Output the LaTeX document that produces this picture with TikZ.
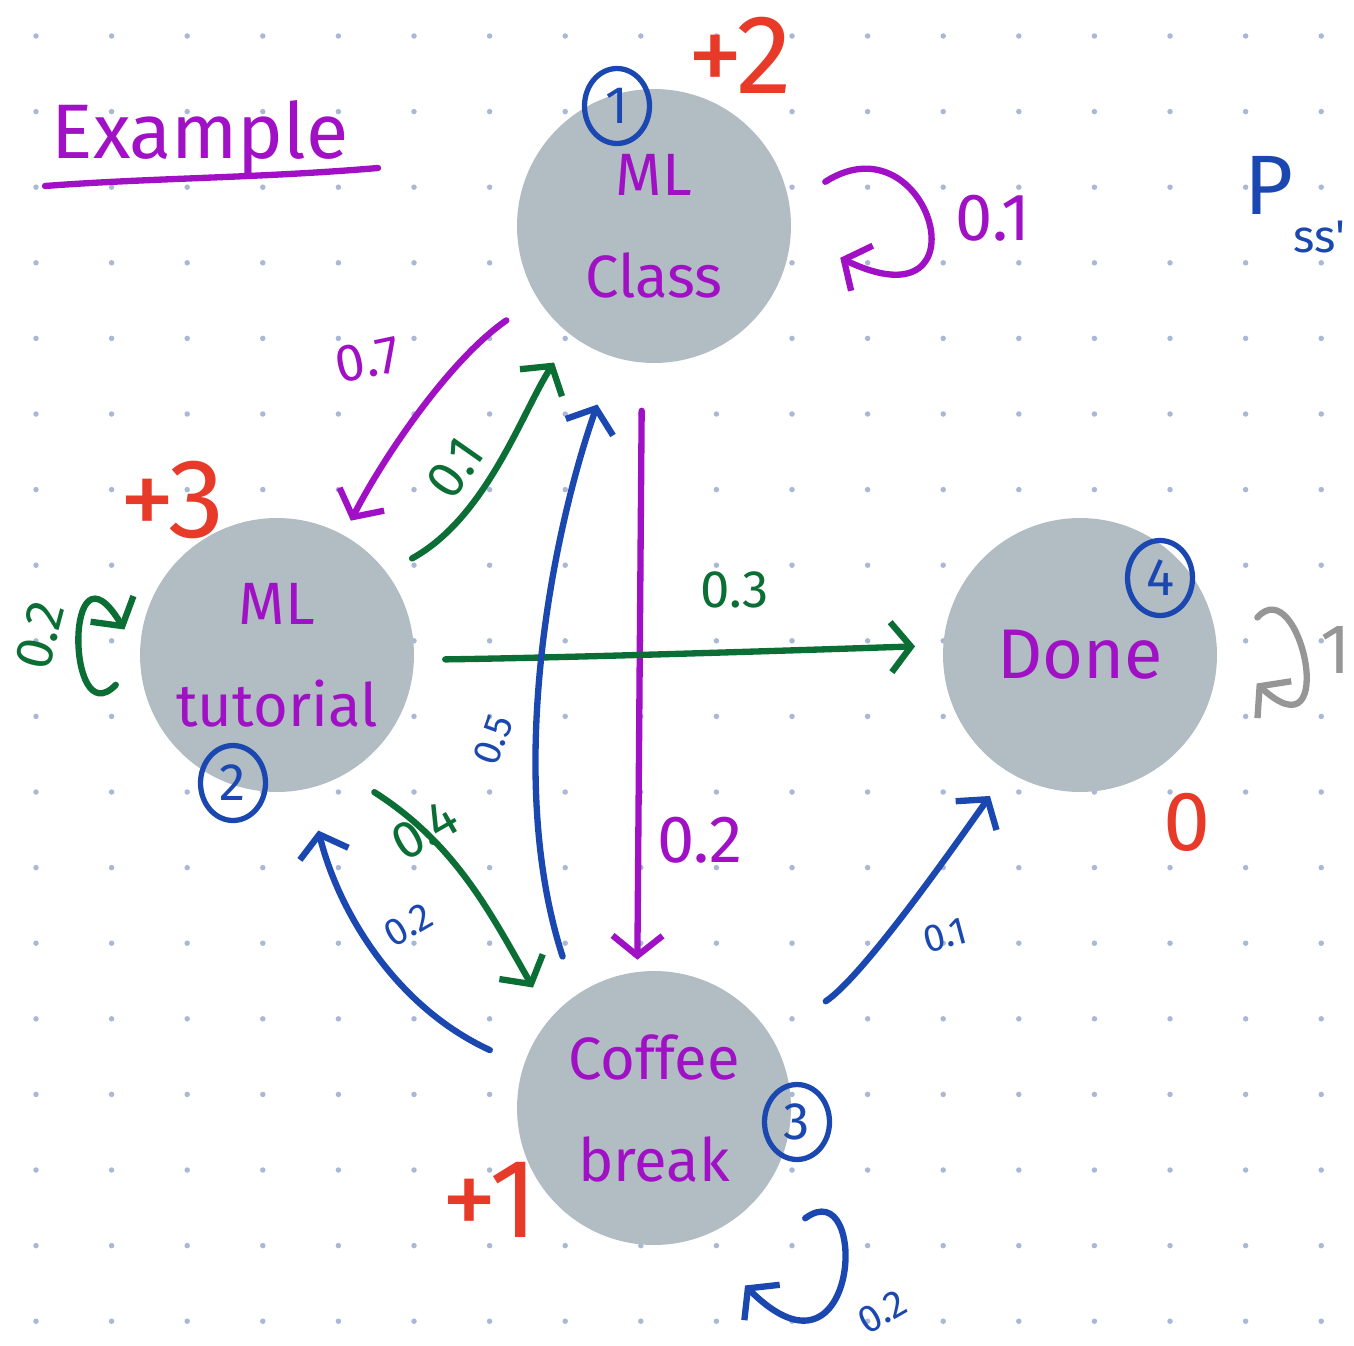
\documentclass[tikz,border=0pt]{standalone}
\usepackage{fontspec}
\usetikzlibrary{arrows.meta,shapes.geometric}
\newfontfamily\hand{Fira Sans}

\definecolor{hpurple}{RGB}{160,16,196}
\definecolor{hgreen}{RGB}{11,110,53}
\definecolor{hblue}{RGB}{26,72,176}
\definecolor{hred}{RGB}{232,58,40}
\definecolor{hgray}{RGB}{150,150,150}
\definecolor{nodegray}{RGB}{177,189,195}
\definecolor{dotcol}{RGB}{169,184,212}

\begin{document}
\begin{tikzpicture}[x=0.02cm, y=-0.02cm,
    v/.style={circle, fill=nodegray, minimum size=5.48cm, inner sep=0pt,
        text=hpurple, align=center, font=\hand\fontsize{34}{58}\selectfont},
    num/.style={ellipse, draw=hblue, line width=3pt, minimum width=1.3cm,
        minimum height=1.5cm, inner sep=0pt, text=hblue,
        font=\hand\fontsize{30}{30}\selectfont},
    rew/.style={text=hred, font=\hand\fontsize{64}{64}\selectfont},
    lbl/.style={font=\hand\fontsize{30}{30}\selectfont},
    sm/.style={font=\hand\fontsize{22}{22}\selectfont},
    e/.style={line width=3.6pt, line cap=round,
        -{Straight Barb[length=4mm, width=10mm]}}
]

    \useasboundingbox (0,0) rectangle (1354,1345);

    % dotted paper
    \foreach \i in {0,...,17}
        \foreach \j in {0,...,17}
            \fill[dotcol] (36+75.6*\i, 36+75.6*\j) circle[radius=0.055cm];

    % title
    \node[text=hpurple, font=\hand\fontsize{44}{44}\selectfont] (title) at (200,138) {Example};
    \draw[hpurple, line width=3.6pt, line cap=round] (45,186) .. controls (150,178) and (260,178) .. (378,168);

    % states
    \node[v] (class) at (654,226) {ML\\Class};
    \node[v] (tut) at (277,655) {ML\\tutorial};
    \node[v] (coffee) at (654,1108) {Coffee\\break};
    \node[v, font=\hand\fontsize{40}{40}\selectfont] (done) at (1080,655) {Done};

    % state numbers
    \node[num] (n1) at (617,106) {1};
    \node[num] (n2) at (233,783) {2};
    \node[num] (n3) at (797,1122) {3};
    \node[num] (n4) at (1160,578) {4};

    % rewards
    \node[rew] (r1) at (740,55) {+2};
    \node[rew] (r2) at (172,500) {+3};
    \node[rew] (r3) at (490,1200) {+1};
    \node[rew, font=\hand\fontsize{48}{48}\selectfont] (r4) at (1187,822) {0};

    \node[text=hblue, font=\hand\fontsize{48}{48}\selectfont] (pss) at (1295,205) {P\raisebox{-0.45em}{\fontsize{26}{26}\selectfont ss'}};

    % transitions from ML class
    \draw[e, hpurple, shorten <=0.76cm, shorten >=0.32cm] (class.212) .. controls +(-88,61) and +(40,-78) .. (tut.61);
    \draw[e, hpurple, shorten <=0.96cm, shorten >=0.24cm] (class.265) -- (coffee.97);
    \draw[e, hpurple] ([shift={(38,-11)}]class.14) .. controls +(105,-67) and +(150,72) .. ([shift={(51,8)}]class.-10);

    % transitions from ML tutorial
    \draw[e, hgreen, shorten <=0.58cm, shorten >=0.64cm] (tut.37) .. controls +(100,-55) and +(-49,76) .. (class.233);
    \draw[e, hgreen, shorten <=0.62cm, shorten >=0.56cm] (tut.-2) .. controls +(150,-2) and +(-150,5) .. (done.176);
    \draw[e, hgreen, shorten <=0.68cm, shorten >=0.70cm] (tut.-60) .. controls +(110,70) and +(-60,-105) .. (coffee.139);
    \draw[e, hgreen] ([shift={(-26,6)}]tut.190) .. controls +(-50,52) and +(-60,-100) .. ([shift={(-17,-4)}]tut.171);

    % transitions from coffee break
    \draw[e, hblue, shorten <=0.82cm, shorten >=1.0cm] (coffee.125) .. controls +(-70,-216) and +(-64,183) .. (class.253);
    \draw[e, hblue, shorten <=0.74cm, shorten >=0.86cm] (coffee.162) .. controls +(-130,-60) and +(30,120) .. (tut.-77);
    \draw[e, hblue, shorten <=1.3cm, shorten >=0.6cm] (coffee.31) .. controls +(90,-60) and +(-60,85) .. (done.238);
    \draw[e, hblue] ([shift={(46,22)}]coffee.-40) .. controls +(65,-48) and +(115,115) .. ([shift={(33,53)}]coffee.-65);

    % done is absorbing
    \draw[e, hgray] ([shift={(43,-9)}]done.12) .. controls +(43,-48) and +(84,77) .. ([shift={(41,7)}]done.-9);

    % probabilities
    \node[lbl, text=hpurple, font=\hand\fontsize{38}{38}\selectfont] (p11) at (993,218) {0.1};
    \node[lbl, text=hpurple, rotate=12] (p12) at (368,360) {0.7};
    \node[lbl, text=hpurple, font=\hand\fontsize{38}{38}\selectfont] (p13) at (700,840) {0.2};
    \node[lbl, text=hgreen, rotate=55] (p21) at (455,468) {0.1};
    \node[lbl, text=hgreen] (p22) at (735,590) {0.3};
    \node[lbl, text=hgreen, rotate=30] (p23) at (425,830) {0.4};
    \node[lbl, text=hgreen, rotate=75] (p24) at (40,635) {0.2};
    \node[sm, text=hblue, rotate=70] (p31) at (493,740) {0.5};
    \node[sm, text=hblue, rotate=30] (p32) at (408,925) {0.2};
    \node[sm, text=hblue, rotate=15] (p33) at (945,935) {0.1};
    \node[sm, text=hblue, rotate=30] (p34) at (882,1312) {0.2};
    \node[text=hgray, font=\hand\fontsize{40}{40}\selectfont] (p44) at (1336,650) {1};

\end{tikzpicture}
\end{document}
